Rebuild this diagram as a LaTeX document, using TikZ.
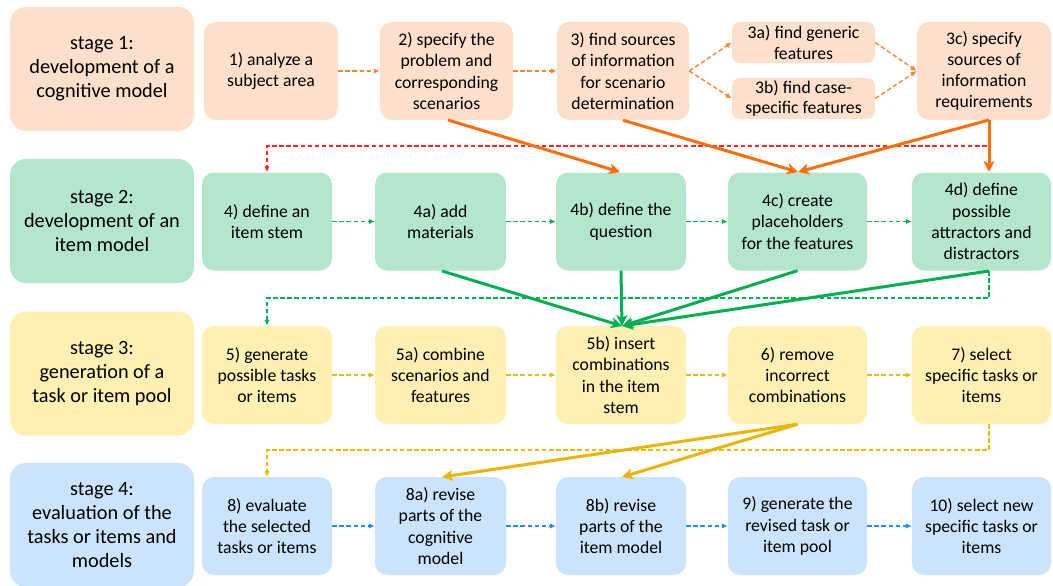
\documentclass[tikz,border=0pt]{standalone}
\usepackage{fontspec}
\setmainfont{Carlito}
\usetikzlibrary{arrows.meta}
\definecolor{fo}{HTML}{FDE0CC}
\definecolor{fg}{HTML}{B4E6CE}
\definecolor{fy}{HTML}{FEF0B3}
\definecolor{fb}{HTML}{CCE4FB}
\definecolor{ao}{HTML}{FF6D0D}
\definecolor{ar}{HTML}{FF2626}
\definecolor{ag}{HTML}{00B050}
\definecolor{ay}{HTML}{E8BA00}
\definecolor{ab}{HTML}{1E8CFF}
\tikzset{
  stagebox/.style={rounded corners=16pt, minimum width=184pt, minimum height=124pt, align=center, font=\fontsize{20.3}{24}\selectfont, inner sep=0pt},
  stepbox/.style={rounded corners=12pt, minimum height=98pt, align=center, font=\fontsize{17.7}{21.3}\selectfont, inner sep=0pt},
  smallbox/.style={rounded corners=8pt, minimum width=143pt, minimum height=41pt, align=center, font=\fontsize{17.7}{20.5}\selectfont, inner sep=0pt},
  dsh/.style={line width=1.4pt, dash pattern=on 4.5pt off 2.6pt, -{Latex[length=6pt,width=5.5pt]}},
  sol/.style={line width=3pt, -{Stealth[length=11pt,width=11pt,inset=3pt]}},
}
\begin{document}
\begin{tikzpicture}[x=1pt,y=-1pt]
\useasboundingbox (0,0) rectangle (1053,586);
% stage boxes
\node[stagebox, fill=fo] (s1) at (102,69) {stage 1:\\development of a\\cognitive model};
\node[stagebox, fill=fg] (s2) at (102,221) {stage 2:\\development of an\\item model};
\node[stagebox, fill=fy] (s3) at (102,373.5) {stage 3:\\generation of a\\task or item pool};
\node[stagebox, fill=fb] (s4) at (102,525) {stage 4:\\evaluation of the\\tasks or items and\\models};
% row 1
\node[stepbox, fill=fo, minimum width=134pt] (n1) at (271,71) {1) analyze a\\subject area};
\node[stepbox, fill=fo, minimum width=133pt] (n2) at (446.5,71) {2) specify the\\problem and\\corresponding\\scenarios};
\node[stepbox, fill=fo, minimum width=132pt] (n3) at (623,71) {3) find sources\\of information\\for scenario\\determination};
\node[smallbox, fill=fo] (n3a) at (803.5,42.5) {3a) find generic\\features};
\node[smallbox, fill=fo] (n3b) at (803.5,98.5) {3b) find case-\\specific features};
\node[stepbox, fill=fo, minimum width=134pt] (n3c) at (984,71) {3c) specify\\sources of\\information\\requirements};
% row 2
\node[stepbox, fill=fg, minimum width=130pt] (n4) at (267,221.5) {4) define an\\item stem};
\node[stepbox, fill=fg, minimum width=131pt] (n4a) at (440.5,221.5) {4a) add\\materials};
\node[stepbox, fill=fg, minimum width=130pt] (n4b) at (621,221.5) {4b) define the\\question};
\node[stepbox, fill=fg, minimum width=139pt] (n4c) at (797.5,221.5) {4c) create\\placeholders\\for the features};
\node[stepbox, fill=fg, minimum width=139pt] (n4d) at (981.5,221.5) {4d) define\\possible\\attractors and\\distractors};
% row 3
\node[stepbox, fill=fy, minimum width=130pt] (n5) at (267,375) {5) generate\\possible tasks\\or items};
\node[stepbox, fill=fy, minimum width=131pt] (n5a) at (440.5,375) {5a) combine\\scenarios and\\features};
\node[stepbox, fill=fy, minimum width=130pt] (n5b) at (621,375) {5b) insert\\combinations\\in the item\\stem};
\node[stepbox, fill=fy, minimum width=139pt] (n6) at (797.5,375) {6) remove\\incorrect\\combinations};
\node[stepbox, fill=fy, minimum width=139pt] (n7) at (981.5,375) {7) select\\specific tasks or\\items};
% row 4
\node[stepbox, fill=fb, minimum width=130pt] (n8) at (267,526) {8) evaluate\\the selected\\tasks or items};
\node[stepbox, fill=fb, minimum width=131pt] (n8a) at (440.5,526) {8a) revise\\parts of the\\cognitive\\model};
\node[stepbox, fill=fb, minimum width=130pt] (n8b) at (621,526) {8b) revise\\parts of the\\item model};
\node[stepbox, fill=fb, minimum width=139pt] (n9) at (797.5,526) {9) generate the\\revised task or\\item pool};
\node[stepbox, fill=fb, minimum width=139pt] (n10) at (981.5,526) {10) select new\\specific tasks or\\items};
% row 1 dashed
\draw[dsh, ao!85!white] (n1.east) -- (n2.west);
\draw[dsh, ao!85!white] (n2.east) -- (n3.west);
\draw[dsh, ao!85!white] (n3.east) -- (n3a.west);
\draw[dsh, ao!85!white] (n3.east) -- (n3b.west);
\draw[dsh, ao!85!white] (n3a.east) -- (n3c.west);
\draw[dsh, ao!85!white] (n3b.east) -- (n3c.west);
% red feedback
\coordinate (c3c) at (989,120);
\coordinate (r1) at (989,146);
\draw[dsh, ar] (c3c) -- (r1) -| (n4.north);
% solid orange
\coordinate (o2) at (448,120);
\coordinate (t4b) at (620,172);
\coordinate (t4c) at (798,172);
\coordinate (t4d) at (989,172);
\draw[sol, ao] (o2) -- (t4b);
\draw[sol, ao] (n3.south) -- (t4c);
\draw[sol, ao] (c3c) -- (t4c);
\draw[sol, ao] (c3c) -- (t4d);
% row 2 dashed
\draw[dsh, ag] (n4.east) -- (n4a.west);
\draw[dsh, ag] (n4a.east) -- (n4b.west);
\draw[dsh, ag] (n4b.east) -- (n4c.west);
\draw[dsh, ag] (n4c.east) -- (n4d.west);
\coordinate (g4d) at (989,271);
\coordinate (g1) at (989,298);
\draw[dsh, ag] (g4d) -- (g1) -| (n5.north);
% solid green
\coordinate (t5b) at (622,326);
\coordinate (g4a) at (442,271);
\draw[sol, ag] (g4a) -- (t5b);
\draw[sol, ag] (n4b.south) -- (t5b);
\draw[sol, ag] (n4c.south) -- (t5b);
\draw[sol, ag] (g4d) -- (t5b);
% row 3 dashed
\draw[dsh, ay] (n5.east) -- (n5a.west);
\draw[dsh, ay] (n5a.east) -- (n5b.west);
\draw[dsh, ay] (n5b.east) -- (n6.west);
\draw[dsh, ay] (n6.east) -- (n7.west);
\coordinate (y7) at (989,424);
\coordinate (y1) at (989,450);
\draw[dsh, ay] (y7) -- (y1) -| (n8.north);
% solid yellow
\coordinate (t8a) at (442,477);
\coordinate (t8b) at (622,477);
\draw[sol, ay!90!orange] (n6.south) -- (t8a);
\draw[sol, ay!90!orange] (n6.south) -- (t8b);
% row 4 dashed
\draw[dsh, ab] (n8.east) -- (n8a.west);
\draw[dsh, ab] (n8a.east) -- (n8b.west);
\draw[dsh, ab] (n8b.east) -- (n9.west);
\draw[dsh, ab] (n9.east) -- (n10.west);
\end{tikzpicture}
\end{document}
